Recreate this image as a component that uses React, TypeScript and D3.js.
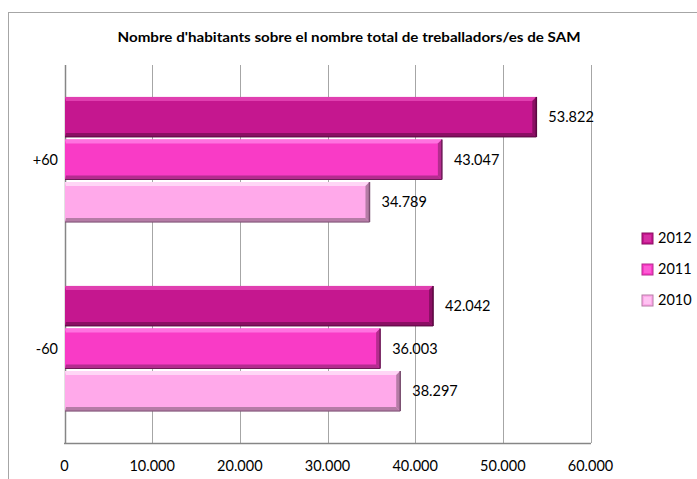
import React from "react";
import * as d3 from "d3";

const categories = ["+60", "-60"];
const seriesNames = ["2012", "2011", "2010"];
const values2012 = [53822, 42042];
const values2011 = [43047, 36003];
const values2010 = [34789, 38297];
const xTicks = [0, 10000, 20000, 30000, 40000, 50000, 60000];
const titleText = "Nombre d'habitants sobre el nombre total de treballadors/es de SAM";

const palettes = [
  { base: "#C5178F", light: "#E03FB0", dark: "#8A0F63", edge: "#5A0840" },
  { base: "#F93BC6", light: "#FF72E0", dark: "#B42C8F", edge: "#6E1A57" },
  { base: "#FFA9EA", light: "#FFD6F6", dark: "#B57CA6", edge: "#7A4F70" },
];

const fmt = (v: number) => d3.format(",")(v).replace(/,/g, ".");

export default function App() {
  const W = 697, H = 479;
  const x = d3.scaleLinear().domain([0, 60000]).range([64.5, 590.5]);
  const y = d3.scaleBand().domain(categories).range([65, 443]).paddingInner(0).paddingOuter(0);
  const inner = d3.scaleBand().domain(seriesNames).range([0, y.bandwidth()]).paddingOuter(0.75).paddingInner(0.06);
  const seriesValues = [values2012, values2011, values2010];
  const font = "Lato, 'Open Sans', sans-serif";

  return (
    <svg width={W} height={H} style={{ position: "absolute", left: 0, top: 0 }}>
      <rect x={0} y={0} width={W} height={H} fill="#fff" />
      <rect x={8.5} y={12.5} width={W + 10} height={H + 10} fill="#fff" stroke="#A6A6A6" strokeWidth={1} />
      <text x={349} y={42} textAnchor="middle" fontFamily={font} fontWeight="bold" fontSize={13.5}
        textLength={463} lengthAdjust="spacingAndGlyphs" fill="#000">{titleText}</text>
      {/* gridlines */}
      {xTicks.map((t) => (
        <line key={"g" + t} x1={Math.round(x(t)) + 0.5} x2={Math.round(x(t)) + 0.5} y1={65} y2={443}
          stroke={t === 0 ? "#868686" : "#A6A6A6"} strokeWidth={t === 0 ? 1.5 : 1} />
      ))}
      <line x1={64} x2={591} y1={443.5} y2={443.5} stroke="#868686" strokeWidth={1.5} />
      {/* bars */}
      {categories.map((c, ci) =>
        seriesNames.map((s, si) => {
          const v = seriesValues[si][ci];
          const x0 = x(0) + 0.5;
          const x1 = x(v);
          const y0 = (y(c) as number) + (inner(s) as number);
          const h = inner.bandwidth();
          const y1 = y0 + h;
          const p = palettes[si];
          const b = 4;
          return (
            <g key={c + s}>
              <rect x={x0} y={y0} width={x1 - x0} height={h} fill={p.base} />
              <polygon points={`${x0},${y0} ${x1},${y0} ${x1 - b},${y0 + b} ${x0 + 1},${y0 + b}`} fill={p.light} />
              <polygon points={`${x0},${y1} ${x1},${y1} ${x1 - b},${y1 - b} ${x0 + 1},${y1 - b}`} fill={p.dark} />
              <polygon points={`${x1},${y0} ${x1},${y1} ${x1 - b},${y1 - b} ${x1 - b},${y0 + b}`} fill={p.dark} />
              <line x1={x1} x2={x1} y1={y0} y2={y1} stroke={p.edge} strokeWidth={1.5} />
              <line x1={x0} x2={x1} y1={y1} y2={y1} stroke={p.edge} strokeWidth={1} />
              <text x={x1 + 12} y={(y0 + y1) / 2 + 5} fontFamily={font} fontSize={14.5} fill="#000">{fmt(v)}</text>
            </g>
          );
        })
      )}
      {/* category labels */}
      {categories.map((c) => (
        <text key={c} x={58} y={(y(c) as number) + y.bandwidth() / 2 + 5} textAnchor="end" fontFamily={font} fontSize={14.5} fill="#000">{c}</text>
      ))}
      {/* x tick labels */}
      {xTicks.map((t) => (
        <text key={"t" + t} x={x(t)} y={471} textAnchor="middle" fontFamily={font} fontSize={14.5} fill="#000">{fmt(t)}</text>
      ))}
      {/* legend */}
      {seriesNames.map((s, i) => {
        const ly = 238 + i * 31;
        const p = palettes[i];
        return (
          <g key={"l" + s}>
            <rect x={642} y={ly - 5} width={11} height={11} fill={p.base} stroke={p.dark} strokeWidth={1} />
            <rect x={644} y={ly - 3} width={7} height={7} fill={p.light} opacity={0.6} />
            <text x={658} y={ly + 5} fontFamily={font} fontSize={14.5} fill="#000">{s}</text>
          </g>
        );
      })}
    </svg>
  );
}
